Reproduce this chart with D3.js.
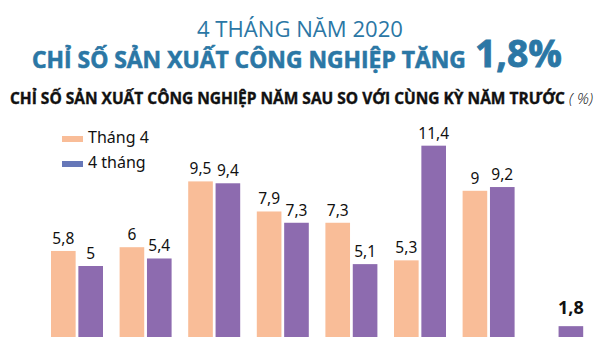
<!DOCTYPE html>
<html>
<head>
<meta charset="utf-8">
<script src="https://cdn.jsdelivr.net/npm/d3@7"></script>
<style>
  html, body { margin: 0; padding: 0; background: #fff; }
  svg { display: block; }
</style>
</head>
<body>
<svg width="600" height="337"></svg>
<script>
// Data
const years = ["2013", "2014", "2015", "2016", "2017", "2018", "2019", "2020"];
const thang4 = [5.8, 6, 9.5, 7.9, 7.3, 5.3, 9, null];
const bonThang = [5, 5.4, 9.4, 7.3, 5.1, 11.4, 9.2, 1.8];
const seriesNames = ["Tháng 4", "4 tháng"];

const colors = { bar0: "#f9bd98", bar1: "#8d6baf", legend1: "#6677b8", title: "#2b77a5" };

const rows = years.map((y, i) => ({ year: y, values: [thang4[i], bonThang[i]] }));

const svg = d3.select("svg");

// squeeze a text horizontally so it spans `width` px starting at x
function fitText(sel, x, width) {
    const w = sel.node().getComputedTextLength();
    sel.attr("x", 0).attr("transform", `translate(${x},0) scale(${width / w},1)`);
}

// Titles
svg.append("text")
    .attr("y", 37)
    .attr("font-family", "Open Sans, sans-serif")
    .attr("font-size", 21)
    .attr("fill", colors.title)
    .text("4 THÁNG NĂM 2020")
    .call(fitText, 197, 206);

svg.append("text")
    .attr("y", 68)
    .attr("font-family", "Open Sans, sans-serif")
    .attr("font-weight", 700)
    .attr("font-size", 23)
    .attr("fill", colors.title)
    .attr("stroke", colors.title).attr("stroke-width", 0.6)
    .text("CHỈ SỐ SẢN XUẤT CÔNG NGHIỆP TĂNG")
    .call(fitText, 32, 434);

svg.append("text")
    .attr("y", 67)
    .attr("font-family", "Open Sans, sans-serif")
    .attr("font-weight", 700)
    .attr("font-size", 37)
    .attr("fill", colors.title)
    .attr("stroke", colors.title).attr("stroke-width", 0.8)
    .text("1,8%")
    .call(fitText, 475, 87);

svg.append("text")
    .attr("y", 104)
    .attr("font-family", "Open Sans, sans-serif")
    .attr("font-weight", 700)
    .attr("font-size", 16.5)
    .attr("fill", "#111")
    .attr("stroke", "#111").attr("stroke-width", 0.4)
    .text("CHỈ SỐ SẢN XUẤT CÔNG NGHIỆP NĂM SAU SO VỚI CÙNG KỲ NĂM TRƯỚC")
    .call(fitText, 10, 555);

svg.append("text")
    .attr("y", 104)
    .attr("font-family", "Open Sans, sans-serif")
    .attr("font-style", "italic")
    .attr("font-weight", 300)
    .attr("font-size", 15)
    .attr("fill", "#111")
    .text("( %)")
    .call(fitText, 569, 24);

// Scales
const x0 = d3.scaleBand().domain(years).range([42.7, 591.5]).paddingInner(0.242).paddingOuter(0.121);
const x1 = d3.scaleBand().domain([0, 1]).range([0, x0.bandwidth()]).paddingInner(0.1);
const y = d3.scaleLinear().domain([0, 12]).range([360, 134.4]);

const fmt = v => String(v).replace(".", ",");

const groups = svg.append("g").selectAll("g")
    .data(rows)
    .join("g")
    .attr("transform", d => `translate(${x0(d.year)},0)`);

const cells = groups.selectAll("g")
    .data(d => d.values.map((v, k) => ({ k, v, last: d.year === years[years.length - 1] })).filter(c => c.v != null))
    .join("g");

cells.append("rect")
    .attr("x", c => x1(c.k))
    .attr("width", x1.bandwidth())
    .attr("y", c => y(c.v))
    .attr("height", c => y(0) - y(c.v))
    .attr("fill", c => c.k === 0 ? colors.bar0 : colors.bar1);

cells.append("text")
    .attr("x", c => x1(c.k) + x1.bandwidth() / 2)
    .attr("y", c => y(c.v) - (c.last ? 12 : 7))
    .attr("text-anchor", "middle")
    .attr("font-family", "Noto Sans, sans-serif")
    .attr("font-size", c => c.last ? 18 : 15.5)
    .attr("font-weight", c => c.last ? 700 : 400)
    .attr("fill", "#111")
    .text(c => fmt(c.v));

// Legend
const legend = svg.append("g").selectAll("g")
    .data(seriesNames)
    .join("g")
    .attr("transform", (d, i) => `translate(62,${136 + i * 25})`);

legend.append("rect")
    .attr("width", 21).attr("height", 6)
    .attr("fill", (d, i) => i === 0 ? colors.bar0 : colors.legend1);

legend.append("text")
    .attr("x", 26).attr("y", 7)
    .attr("font-family", "Noto Sans, sans-serif")
    .attr("font-size", 16)
    .attr("fill", "#111")
    .text(d => d);
</script>
</body>
</html>
